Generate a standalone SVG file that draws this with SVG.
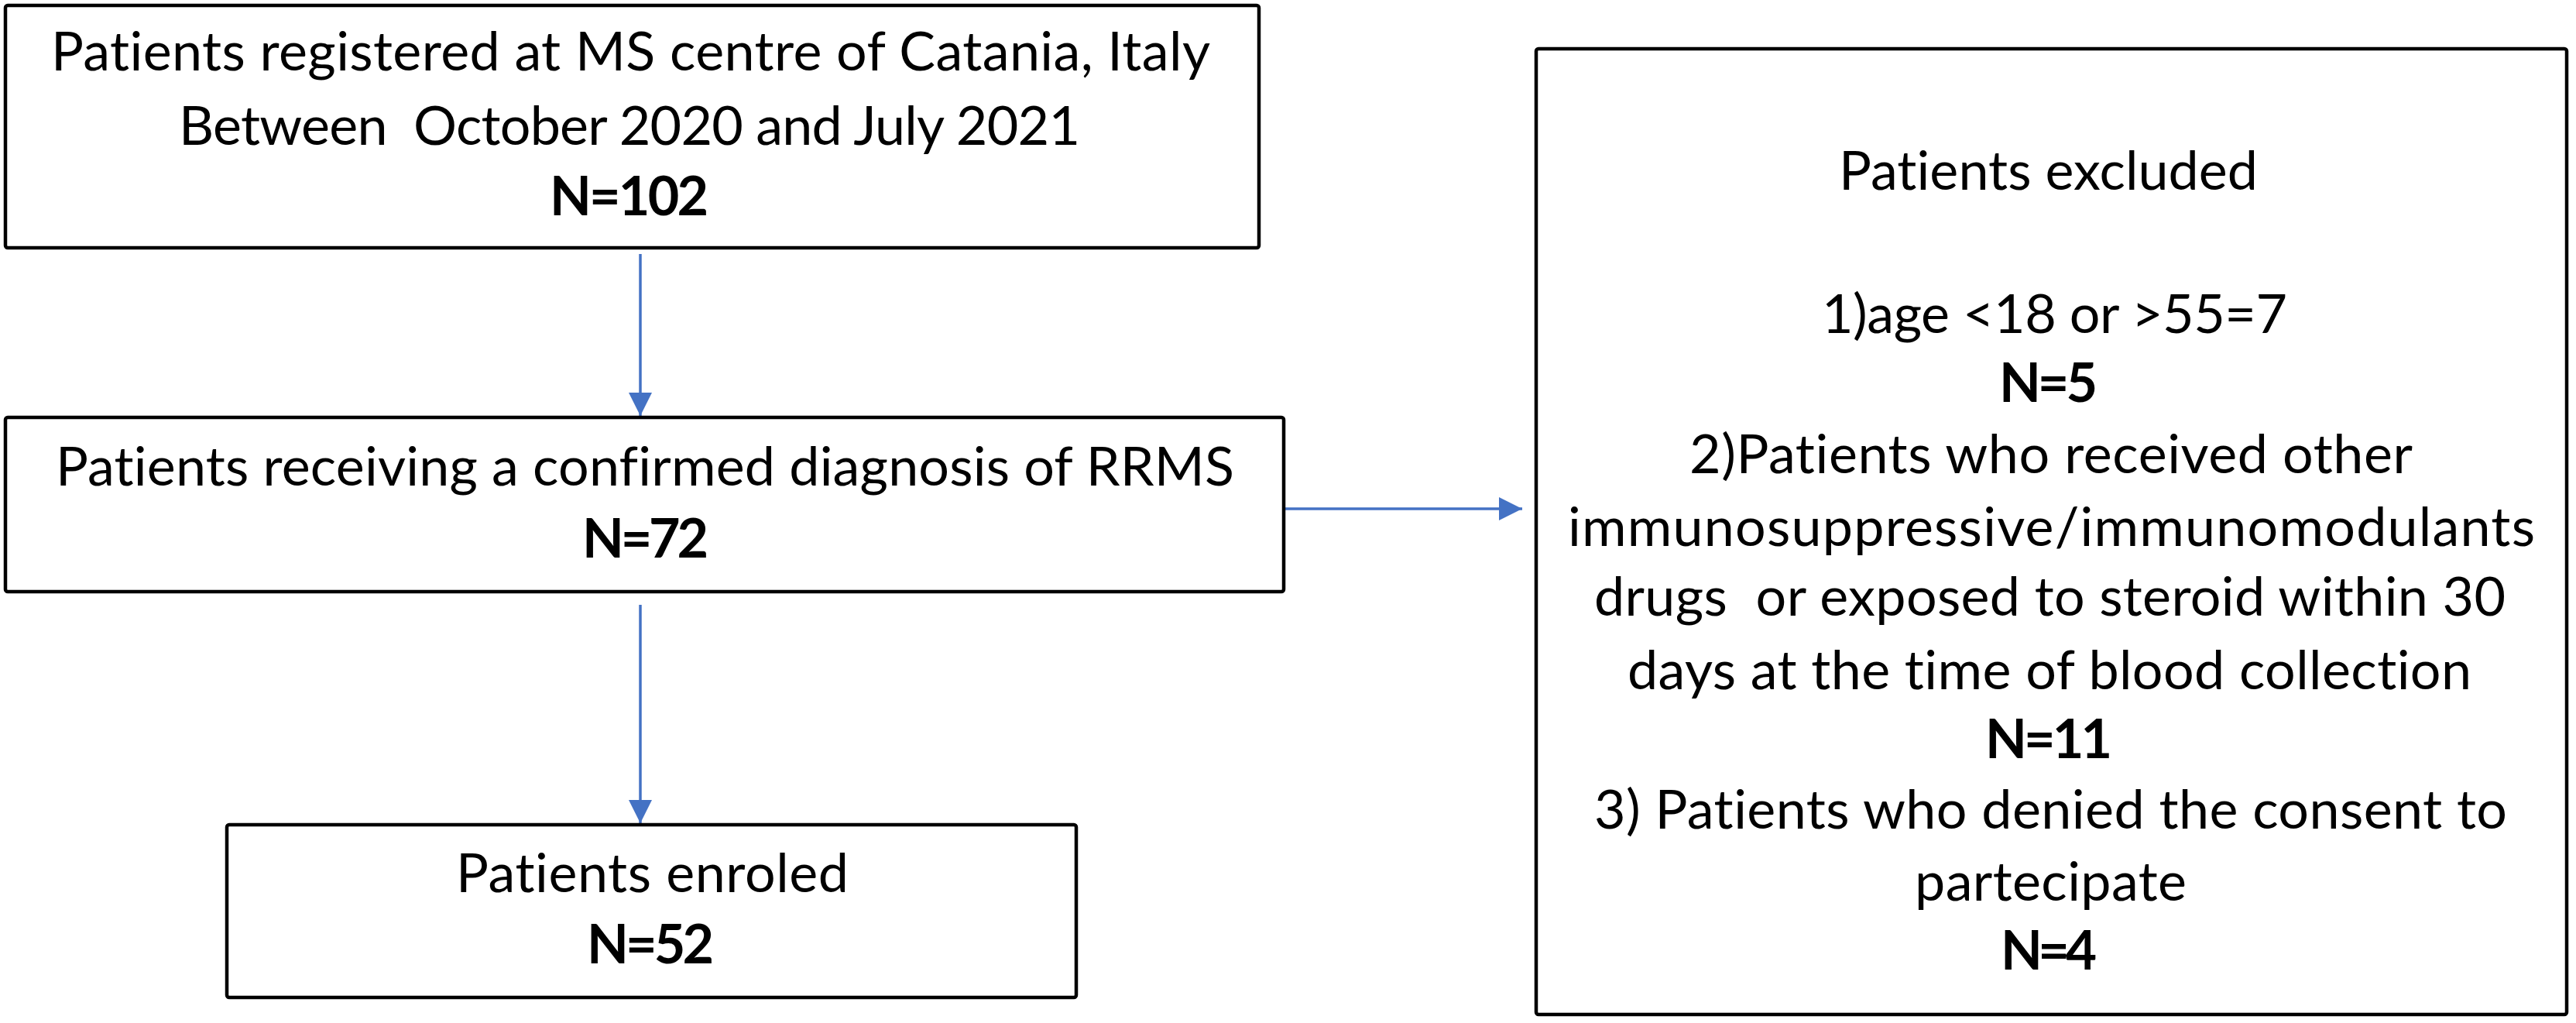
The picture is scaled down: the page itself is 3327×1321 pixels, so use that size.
<svg xmlns="http://www.w3.org/2000/svg" width="3327" height="1321" viewBox="0 0 3327 1321">
<defs>
<style>
.box{fill:#ffffff;stroke:#000000;stroke-width:4.5}
.t{font-family:Lato,"Open Sans","Liberation Sans",sans-serif;font-size:70px;fill:#000000;white-space:pre;font-variant-ligatures:none;font-feature-settings:"liga" 0,"dlig" 0}
.b{font-weight:bold}
.c{stroke:#4472C4;stroke-width:3.5;fill:none}
</style>
<marker id="ah" viewBox="0 0 10 10" refX="10" refY="5" markerWidth="32" markerHeight="30" markerUnits="userSpaceOnUse" orient="auto">
<path d="M0,0 L10,5 L0,10 Z" fill="#4472C4"/>
</marker>
</defs>
<rect width="3327" height="1321" fill="#ffffff"/>
<g id="connectors">
<line class="c" x1="827" y1="328" x2="827" y2="537" marker-end="url(#ah)"/>
<line class="c" x1="827" y1="781" x2="827" y2="1063" marker-end="url(#ah)"/>
<line class="c" x1="1658" y1="657" x2="1966" y2="657" marker-end="url(#ah)"/>
</g>
<g id="node-registered">
<rect class="box" x="7" y="7" width="1619" height="313" rx="3"/>
<text class="t" x="66" y="91" textLength="1497">Patients registered at MS centre of Catania, Italy</text>
<text class="t" x="231" y="187" textLength="1164">Between  October 2020 and July 2021</text>
<text class="t b" x="710" y="278" textLength="205">N=102</text>
</g>
<g id="node-diagnosis">
<rect class="box" x="7" y="539" width="1651" height="225" rx="3"/>
<text class="t" x="72" y="627" textLength="1522">Patients receiving a confirmed diagnosis of RRMS</text>
<text class="t b" x="752" y="720" textLength="163">N=72</text>
</g>
<g id="node-enrolled">
<rect class="box" x="293" y="1065" width="1097" height="223" rx="3"/>
<text class="t" x="589" y="1152" textLength="507">Patients enroled</text>
<text class="t b" x="758" y="1244" textLength="164">N=52</text>
</g>
<g id="node-excluded">
<rect class="box" x="1984" y="63" width="1331" height="1247" rx="3"/>
<text class="t" x="2375" y="245" textLength="541">Patients excluded</text>
<text class="t" x="2353" y="430" textLength="601">1)age &lt;18 or &gt;55=7</text>
<text class="t b" x="2582" y="519" textLength="127">N=5</text>
<text class="t" x="2182" y="611" textLength="934">2)Patients who received other</text>
<text class="t" x="2025" y="705" textLength="1249">immunosuppressive/immunomodulants</text>
<text class="t" x="2059" y="795" textLength="1177">drugs  or exposed to steroid within 30</text>
<text class="t" x="2102" y="890" textLength="1090">days at the time of blood collection</text>
<text class="t b" x="2564" y="979" textLength="164">N=11</text>
<text class="t" x="2059" y="1070" textLength="1179">3) Patients who denied the consent to</text>
<text class="t" x="2473" y="1163" textLength="351">partecipate</text>
<text class="t b" x="2584" y="1252" textLength="124">N=4</text>
</g>
</svg>
